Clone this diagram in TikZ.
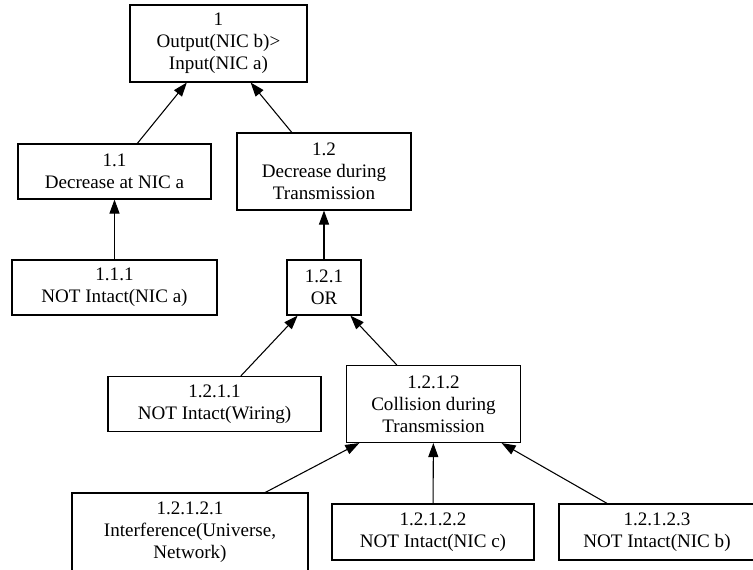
\documentclass[tikz,border=0pt]{standalone}
\usepackage{fontspec}
\setmainfont{Liberation Serif}
\usetikzlibrary{arrows.meta}

\tikzset{
  treebox/.style={draw, line width=0.8pt, inner sep=0pt, align=center,
    font=\fontsize{14.3}{16.5}\selectfont},
  treeedge/.style={line width=0.8pt, -{Triangle[length=10.5pt,width=7.5pt]}}
}

\begin{document}
\begin{tikzpicture}[x=0.75pt,y=0.75pt,yscale=-1,xscale=1]
        %set diagram size, the lowest boxes run past the border
        \path[use as bounding box, clip] (0,0) rectangle (753,569);

        % Text Node
        \node [treebox, minimum width=132.75pt, minimum height=57.75pt] (n1) at (218.5,43.5) {1\\Output(NIC b)>\\Input(NIC a)};
        % Text Node
        \node [treebox, minimum width=144.75pt, minimum height=41.25pt] (n11) at (114.5,171.5) {1.1\\Decrease at NIC a};
        % Text Node
        \node [treebox, minimum width=130.5pt, minimum height=57.75pt] (n12) at (324,171.5) {1.2\\Decrease during\\Transmission};
        % Text Node
        \node [treebox, minimum width=153.75pt, minimum height=41.25pt] (n111) at (114.5,287.5) {1.1.1\\NOT Intact(NIC a)};
        % Text Node
        \node [treebox, minimum width=55.5pt, minimum height=41.25pt] (n121) at (324,287.5) {1.2.1\\OR};
        % Text Node
        \node [treebox, minimum width=159.75pt, minimum height=41.25pt] (n1211) at (214.5,404) {1.2.1.1\\NOT Intact(Wiring)};
        % Text Node
        \node [treebox, minimum width=130.5pt, minimum height=57.75pt] (n1212) at (433.5,404) {1.2.1.2\\Collision during\\Transmission};
        % Text Node
        \node [treebox, minimum width=177pt, minimum height=58.5pt] (n12121) at (190,532) {1.2.1.2.1\\Interference(Universe,\\Network)};
        % Text Node
        \node [treebox, minimum width=151.5pt, minimum height=42pt] (n12122) at (433,532) {1.2.1.2.2\\NOT Intact(NIC c)};
        % Text Node
        \node [treebox, minimum width=147pt, minimum height=42pt] (n12123) at (657,532) {1.2.1.2.3\\NOT Intact(NIC b)};

        %Straight Lines
        \draw [treeedge] (n11) -- (n1);
        \draw [treeedge] (n12) -- (n1);
        \draw [treeedge] (n111) -- (n11);
        \draw [treeedge] (n121) -- (n12);
        \draw [treeedge] (n1211) -- (n121);
        \draw [treeedge] (n1212) -- (n121);
        \draw [treeedge] (n12121) -- (n1212);
        \draw [treeedge] (n12122) -- (n1212);
        \draw [treeedge] (n12123) -- (n1212);

    \end{tikzpicture}
\end{document}
